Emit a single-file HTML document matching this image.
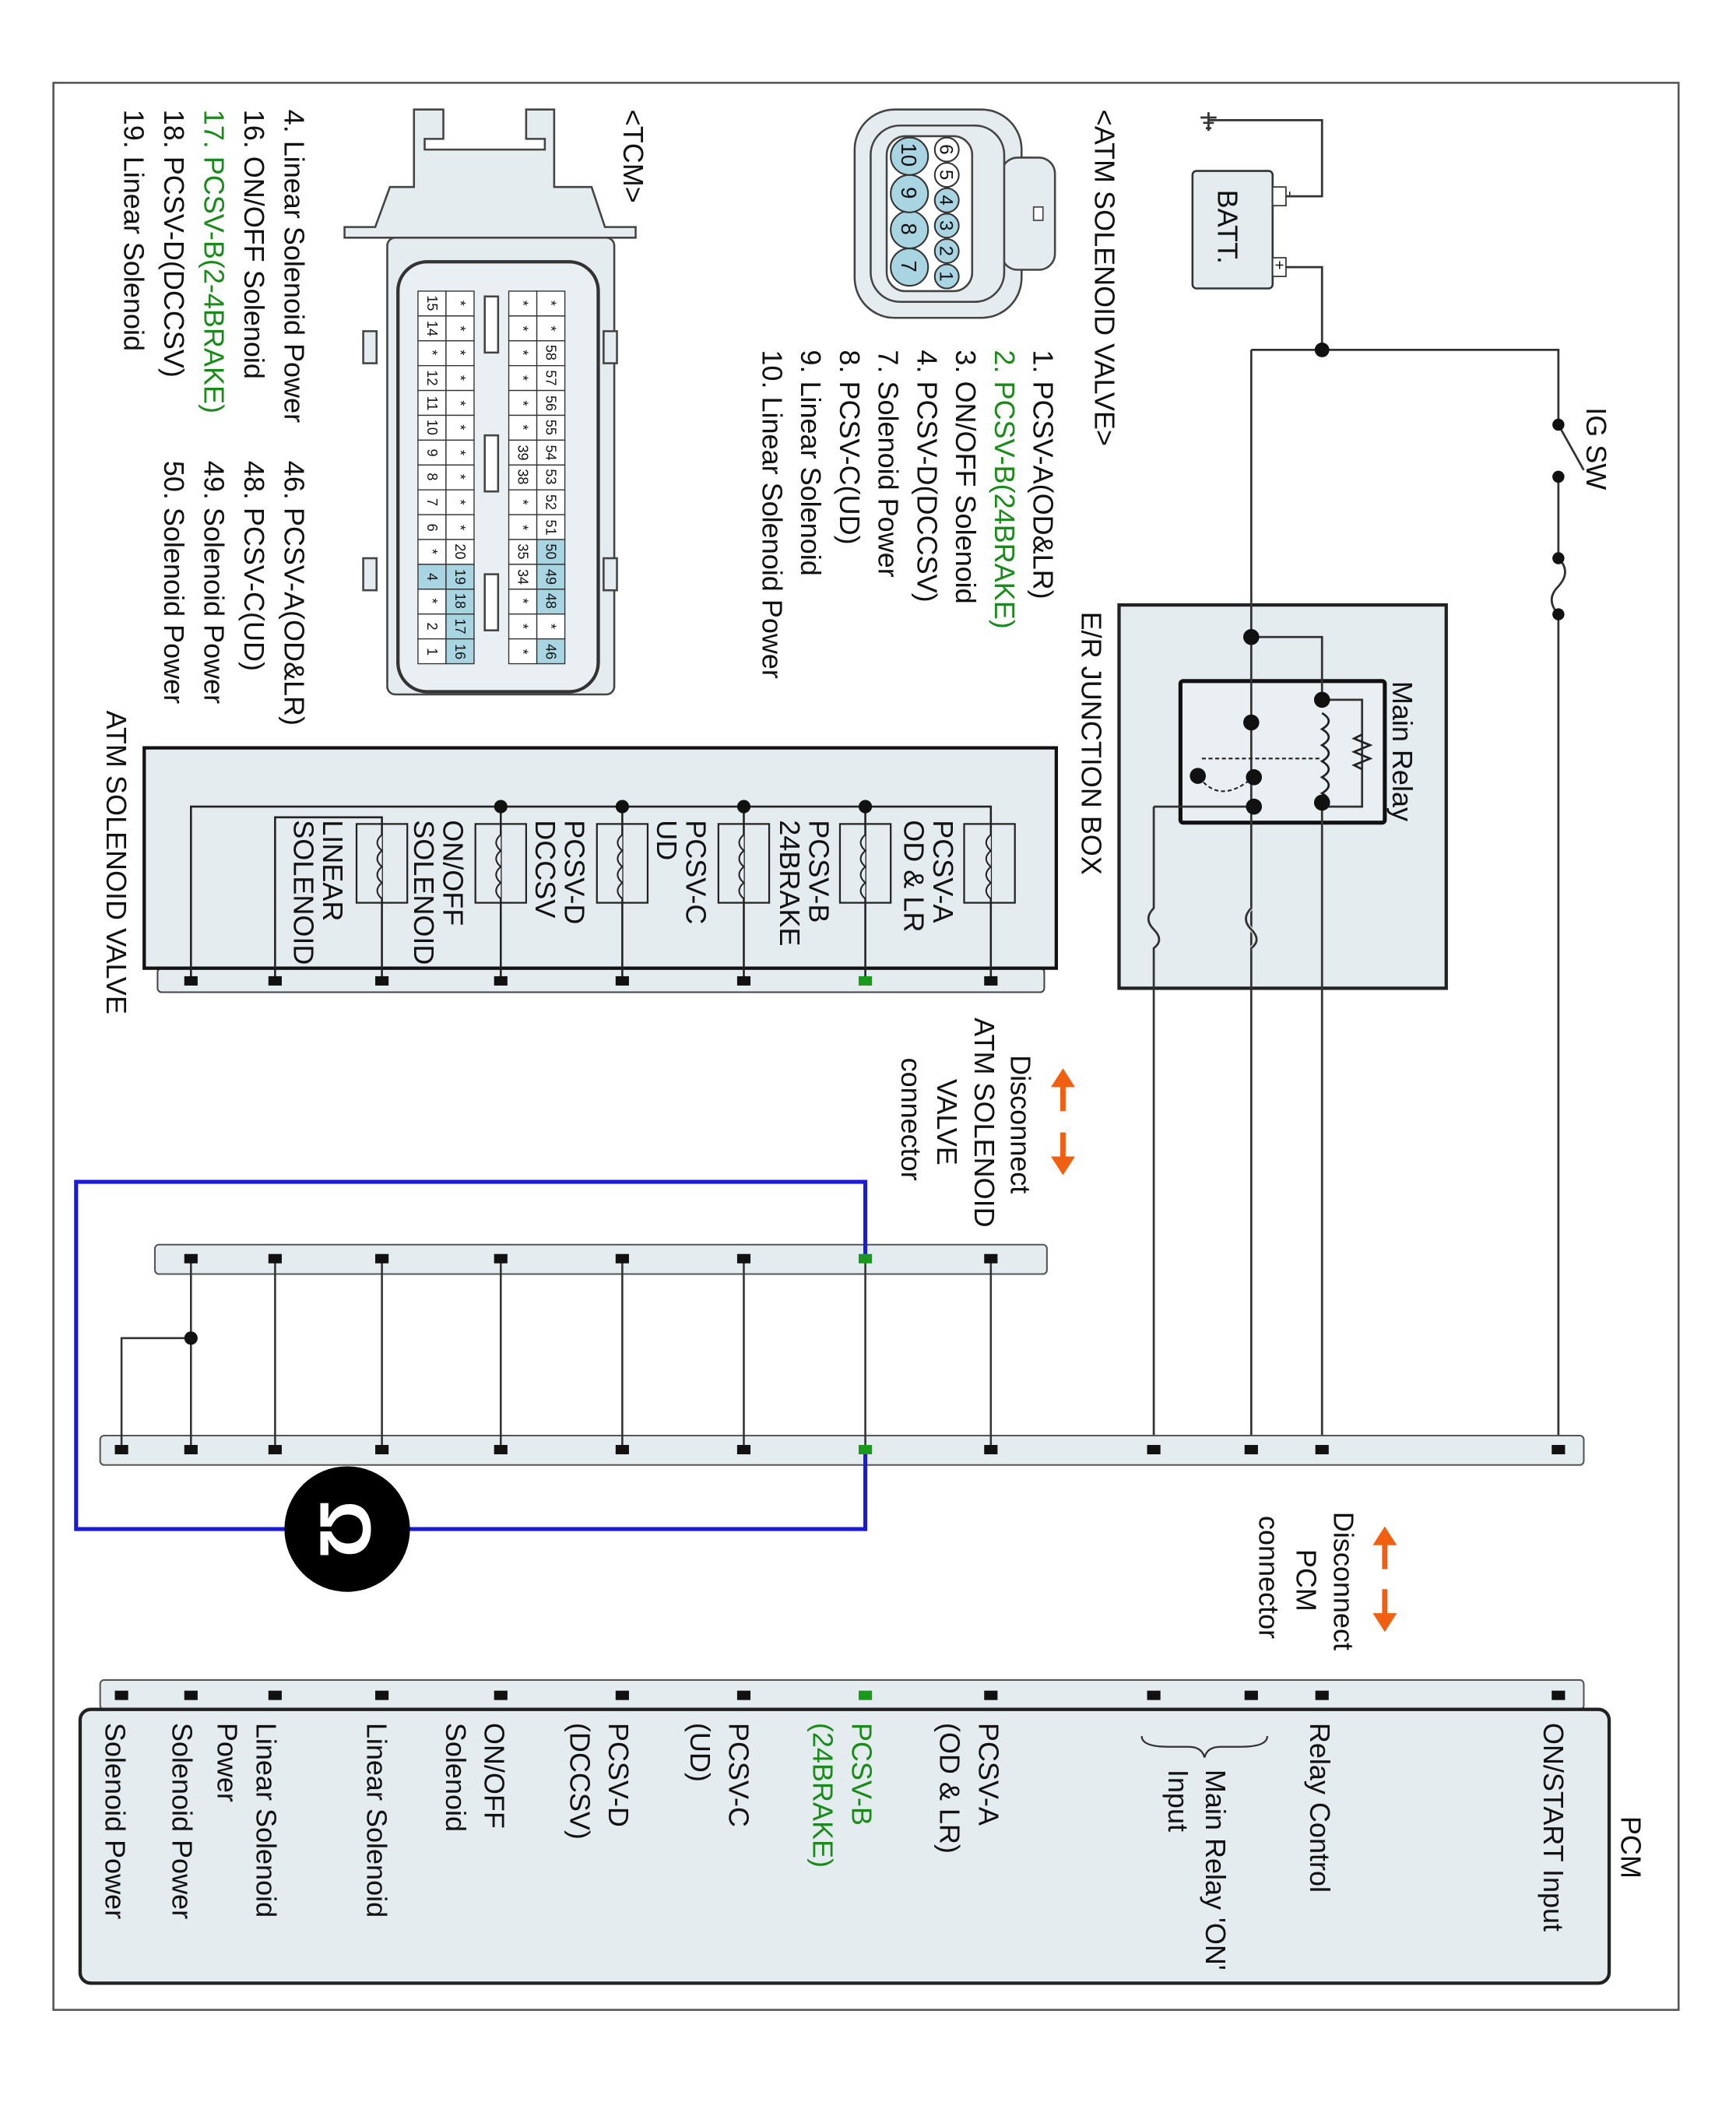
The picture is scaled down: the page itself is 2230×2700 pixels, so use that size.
<!DOCTYPE html>
<html><head><meta charset="utf-8"><style>
html,body{margin:0;padding:0;background:#fff}
svg{display:block}
text{font-family:"Liberation Sans",sans-serif;fill:#111}
.g{fill:#1a8a1a}
</style></head><body>
<svg width="2230" height="2700" viewBox="0 0 1300 1574" preserveAspectRatio="none" xmlns="http://www.w3.org/2000/svg">
<rect x="40" y="62" width="1217" height="1443" fill="#fff" stroke="#555" stroke-width="1.5"/>

<!-- E/R junction box -->
<rect x="838" y="453" width="245" height="287" fill="#e4ecef" stroke="#222" stroke-width="2.5"/>
<rect x="884" y="510" width="153" height="106" fill="#e9eff2" stroke="#111" stroke-width="3" rx="2"/>

<!-- wires -->
<g stroke="#333" stroke-width="1.6" fill="none">
<!-- ground/battery -->
<path d="M905 84 V98 M899 88 H911 M901 92 H909 M903 96 H907"/>
<path d="M905 90 H990 V147 H962"/>
<path d="M962 200 H990 V262"/>
<path d="M937 262 H1167 V318 M1167 357 V418 M1167 460 V1086"/>
<path d="M1167 418 q10 10 0 21 q-10 10 0 21"/>
<path d="M937 262 V1086"/>
<path d="M937 477 H990 V524"/>
<path d="M990 604 V1086"/>
<path d="M990 604 H1020 V524 H990"/>
<path d="M864 604 H937 M864 604 V680 q-8 8 0 16 q8 8 0 14 V1086"/>
<path d="M937 680 q-8 8 0 16 q8 8 0 14" stroke="#e4ecef" stroke-width="3"/>
<path d="M937 680 q-8 8 0 16 q8 8 0 14"/>
</g>
<!-- IG SW -->
<line x1="1167" y1="318" x2="1186" y2="352" stroke="#333" stroke-width="1.6"/>
<!-- relay coil -->
<g stroke="#222" stroke-width="1.6" fill="#e9eff2">
<path d="M990 534 q10 6 0 12 q10 6 0 12 q10 6 0 12 q10 6 0 12 q10 6 0 12 q10 6 0 12" fill="none"/>
<path d="M1020 550 l-6 3 l12 5 l-12 5 l12 5 l-12 5 l6 3" fill="none"/>
<path d="M900 568 H990" stroke-dasharray="3,2" fill="none" stroke-width="1.2"/>
<path d="M898 582 q15 20 38 2" stroke-dasharray="3,2" fill="none" stroke-width="1.2"/>
</g>
<g fill="#111">
<circle cx="990" cy="262" r="5.5"/><circle cx="937" cy="477" r="6"/><circle cx="990" cy="524" r="6"/>
<circle cx="937" cy="541" r="6"/><circle cx="939" cy="582" r="6"/><circle cx="939" cy="604" r="6"/>
<circle cx="990" cy="601" r="6"/><circle cx="897" cy="581" r="6"/>
<circle cx="1167" cy="318" r="4.5"/><circle cx="1167" cy="357" r="4.5"/><circle cx="1167" cy="418" r="4.5"/><circle cx="1167" cy="460" r="4.5"/>
</g>

<!-- battery -->
<rect x="893" y="128" width="60" height="88" fill="#e4ecef" stroke="#333" stroke-width="1.5" rx="3"/>
<rect x="953" y="140" width="10" height="14" fill="#fff" stroke="#333"/>
<rect x="953" y="193" width="10" height="14" fill="#fff" stroke="#333"/>
<text transform="translate(963,143) rotate(90)" font-size="11">-</text>
<text transform="translate(954,195) rotate(90)" font-size="12">+</text>
<text transform="translate(912,142) rotate(90)" font-size="21">BATT.</text>

<!-- ATM SOLENOID VALVE box -->
<rect x="118" y="725" width="664" height="18" fill="#e4ecef" stroke="#444" stroke-width="1.2" rx="3"/>
<rect x="108" y="560" width="683" height="165" fill="#e4ecef" stroke="#111" stroke-width="2.5"/>
<g stroke="#222" stroke-width="1.5" fill="none">
<path d="M143 735 V604 H742 V735"/>
<path d="M648 604 V735 M557 604 V735 M466 604 V735 M375 604 V735"/>
<path d="M206 735 V612 H286 V735"/>
</g>
<g fill="#111"><circle cx="648" cy="604" r="5"/><circle cx="557" cy="604" r="5"/><circle cx="466" cy="604" r="5"/><circle cx="375" cy="604" r="5"/></g>
<g stroke="#222" stroke-width="1.3" fill="none">
<rect x="722" y="617" width="38" height="59"/><rect x="629" y="617" width="38" height="59"/>
<rect x="538" y="617" width="38" height="59"/><rect x="447" y="617" width="38" height="59"/>
<rect x="356" y="617" width="38" height="59"/><rect x="267" y="617" width="38" height="59"/>
</g>
<g stroke="#222" stroke-width="1.2" fill="#e4ecef">
<path d="M742 625 q-7 6 0 12 q-7 6 0 12 q-7 6 0 12 q-7 6 0 12"/>
<path d="M648 625 q-7 6 0 12 q-7 6 0 12 q-7 6 0 12 q-7 6 0 12"/>
<path d="M557 625 q-7 6 0 12 q-7 6 0 12 q-7 6 0 12 q-7 6 0 12"/>
<path d="M466 625 q-7 6 0 12 q-7 6 0 12 q-7 6 0 12 q-7 6 0 12"/>
<path d="M375 625 q-7 6 0 12 q-7 6 0 12 q-7 6 0 12 q-7 6 0 12"/>
<path d="M286 625 q-7 6 0 12 q-7 6 0 12 q-7 6 0 12 q-7 6 0 12"/>
</g>
<g font-size="21">
<text transform="translate(699,614) rotate(90)">PCSV-A</text><text transform="translate(677,614) rotate(90)">OD &amp; LR</text>
<text transform="translate(606,614) rotate(90)">PCSV-B</text><text transform="translate(584,614) rotate(90)">24BRAKE</text>
<text transform="translate(514,614) rotate(90)">PCSV-C</text><text transform="translate(492,614) rotate(90)">UD</text>
<text transform="translate(423,614) rotate(90)">PCSV-D</text><text transform="translate(401,614) rotate(90)">DCCSV</text>
<text transform="translate(332,614) rotate(90)">ON/OFF</text><text transform="translate(310,614) rotate(90)">SOLENOID</text>
<text transform="translate(242,614) rotate(90)">LINEAR</text><text transform="translate(220,614) rotate(90)">SOLENOID</text>
</g>

<!-- middle connector strips -->
<rect x="116" y="932" width="668" height="22" fill="#e4ecef" stroke="#555" stroke-width="1.2" rx="3"/>
<rect x="75" y="1075" width="1111" height="22" fill="#e4ecef" stroke="#555" stroke-width="1.2" rx="3"/>
<g stroke="#333" stroke-width="1.5" fill="none">
<path d="M143 943 V1086 M206 943 V1086 M286 943 V1086 M375 943 V1086 M466 943 V1086 M557 943 V1086 M742 943 V1086"/>
<path d="M143 1002 H91 V1086"/>
</g>
<circle cx="143" cy="1002" r="5" fill="#111"/>
<path d="M648 943 V885 H57 V1145 H648 V1086" stroke="#1a1adb" stroke-width="3" fill="none"/>
<line x1="648" y1="943" x2="648" y2="1086" stroke="#333" stroke-width="1.5"/>
<circle cx="260" cy="1145" r="47" fill="#000"/>
<text transform="translate(240,1145) rotate(90)" font-size="54" font-weight="bold" text-anchor="middle" style="fill:#fff">Ω</text>

<!-- PCM -->
<rect x="75" y="1258" width="1111" height="22" fill="#e4ecef" stroke="#555" stroke-width="1.2" rx="3"/>
<rect x="60" y="1280" width="1145" height="205" fill="#e4ecef" stroke="#222" stroke-width="2.5" rx="8"/>

<!-- pins -->
<g fill="#111">
<g id="p1"><rect x="737" y="731" width="10" height="7"/><rect x="552" y="731" width="10" height="7"/><rect x="461" y="731" width="10" height="7"/><rect x="370" y="731" width="10" height="7"/><rect x="281" y="731" width="10" height="7"/><rect x="201" y="731" width="10" height="7"/><rect x="138" y="731" width="10" height="7"/></g>
<rect x="737" y="939" width="10" height="7"/><rect x="552" y="939" width="10" height="7"/><rect x="461" y="939" width="10" height="7"/><rect x="370" y="939" width="10" height="7"/><rect x="281" y="939" width="10" height="7"/><rect x="201" y="939" width="10" height="7"/><rect x="138" y="939" width="10" height="7"/>
<rect x="1162" y="1082" width="10" height="7"/><rect x="985" y="1082" width="10" height="7"/><rect x="932" y="1082" width="10" height="7"/><rect x="859" y="1082" width="10" height="7"/><rect x="737" y="1082" width="10" height="7"/><rect x="552" y="1082" width="10" height="7"/><rect x="461" y="1082" width="10" height="7"/><rect x="370" y="1082" width="10" height="7"/><rect x="281" y="1082" width="10" height="7"/><rect x="201" y="1082" width="10" height="7"/><rect x="138" y="1082" width="10" height="7"/><rect x="86" y="1082" width="10" height="7"/>
<rect x="1162" y="1266" width="10" height="7"/><rect x="985" y="1266" width="10" height="7"/><rect x="932" y="1266" width="10" height="7"/><rect x="859" y="1266" width="10" height="7"/><rect x="737" y="1266" width="10" height="7"/><rect x="552" y="1266" width="10" height="7"/><rect x="461" y="1266" width="10" height="7"/><rect x="370" y="1266" width="10" height="7"/><rect x="281" y="1266" width="10" height="7"/><rect x="201" y="1266" width="10" height="7"/><rect x="138" y="1266" width="10" height="7"/><rect x="86" y="1266" width="10" height="7"/>
</g>
<g fill="#1a9a1a"><rect x="643" y="731" width="10" height="7"/><rect x="643" y="939" width="10" height="7"/><rect x="643" y="1082" width="10" height="7"/><rect x="643" y="1266" width="10" height="7"/></g>

<!-- orange arrows -->
<g stroke="#f06010" stroke-width="4" fill="#f06010">
<line x1="796" y1="812" x2="796" y2="832"/><polygon points="787,814 805,814 796,800" stroke="none"/>
<line x1="796" y1="848" x2="796" y2="868"/><polygon points="787,866 805,866 796,880" stroke="none"/>
<line x1="1037" y1="1155" x2="1037" y2="1175"/><polygon points="1028,1157 1046,1157 1037,1143" stroke="none"/>
<line x1="1037" y1="1190" x2="1037" y2="1210"/><polygon points="1028,1208 1046,1208 1037,1222" stroke="none"/>
</g>

<!-- labels -->
<g font-size="21">
<text transform="translate(820,82) rotate(90)">&lt;ATM SOLENOID VALVE&gt;</text>
<text transform="translate(774,262) rotate(90)">1. PCSV-A(OD&amp;LR)</text>
<text class="g" transform="translate(745,262) rotate(90)">2. PCSV-B(24BRAKE)</text>
<text transform="translate(716,262) rotate(90)">3. ON/OFF Solenoid</text>
<text transform="translate(687,262) rotate(90)">4. PCSV-D(DCCSV)</text>
<text transform="translate(658,262) rotate(90)">7. Solenoid Power</text>
<text transform="translate(629,262) rotate(90)">8. PCSV-C(UD)</text>
<text transform="translate(600,262) rotate(90)">9. Linear Solenoid</text>
<text transform="translate(571,262) rotate(90)">10. Linear Solenoid Power</text>
<text transform="translate(467,82) rotate(90)">&lt;TCM&gt;</text>
<text transform="translate(213,82) rotate(90)">4. Linear Solenoid Power</text>
<text transform="translate(183,82) rotate(90)">16. ON/OFF Solenoid</text>
<text class="g" transform="translate(153,82) rotate(90)">17. PCSV-B(2-4BRAKE)</text>
<text transform="translate(123,82) rotate(90)">18. PCSV-D(DCCSV)</text>
<text transform="translate(93,82) rotate(90)">19. Linear Solenoid</text>
<text transform="translate(213,345) rotate(90)">46. PCSV-A(OD&amp;LR)</text>
<text transform="translate(183,345) rotate(90)">48. PCSV-C(UD)</text>
<text transform="translate(153,345) rotate(90)">49. Solenoid Power</text>
<text transform="translate(123,345) rotate(90)">50. Solenoid Power</text>
<text transform="translate(80,532) rotate(90)">ATM SOLENOID VALVE</text>
<text transform="translate(810,458) rotate(90)">E/R JUNCTION BOX</text>
<text transform="translate(1043,510) rotate(90)">Main Relay</text>
<text transform="translate(1188,305) rotate(90)">IG SW</text>
<text transform="translate(757,790) rotate(90)">Disconnect</text>
<text transform="translate(730,762) rotate(90)">ATM SOLENOID</text>
<text transform="translate(702,808) rotate(90)">VALVE</text>
<text transform="translate(675,792) rotate(90)">connector</text>
<text transform="translate(999,1132) rotate(90)">Disconnect</text>
<text transform="translate(971,1160) rotate(90)">PCM</text>
<text transform="translate(943,1135) rotate(90)">connector</text>
<text transform="translate(1214,1360) rotate(90)">PCM</text>
<text transform="translate(1156,1290) rotate(90)">ON/START Input</text>
<text transform="translate(981,1290) rotate(90)">Relay Control</text>
<text transform="translate(903,1325) rotate(90)">Main Relay 'ON'</text>
<text transform="translate(875,1325) rotate(90)">Input</text>
<text transform="translate(733,1290) rotate(90)">PCSV-A</text>
<text transform="translate(704,1290) rotate(90)">(OD &amp; LR)</text>
<text class="g" transform="translate(638,1290) rotate(90)">PCSV-B</text>
<text class="g" transform="translate(609,1290) rotate(90)">(24BRAKE)</text>
<text transform="translate(546,1290) rotate(90)">PCSV-C</text>
<text transform="translate(517,1290) rotate(90)">(UD)</text>
<text transform="translate(456,1290) rotate(90)">PCSV-D</text>
<text transform="translate(427,1290) rotate(90)">(DCCSV)</text>
<text transform="translate(363,1290) rotate(90)">ON/OFF</text>
<text transform="translate(334,1290) rotate(90)">Solenoid</text>
<text transform="translate(275,1290) rotate(90)">Linear Solenoid</text>
<text transform="translate(192,1290) rotate(90)">Linear Solenoid</text>
<text transform="translate(163,1290) rotate(90)">Power</text>
<text transform="translate(129,1290) rotate(90)">Solenoid Power</text>
<text transform="translate(79,1290) rotate(90)">Solenoid Power</text>
</g>
<path d="M855 1300 q0 8 20 8 h15 q10 0 12 8 q2 -8 12 -8 h15 q20 0 20 -8" stroke="#333" stroke-width="1.3" fill="none"/>

<!-- ATM connector -->
<g stroke="#444" stroke-width="1.5" fill="#e4ecef">
<rect x="640" y="82" width="125" height="156" rx="30"/>
<rect x="750" y="118" width="40" height="84" rx="12"/>
<rect x="652" y="94" width="100" height="132" rx="22"/>
<rect x="664" y="102" width="64" height="116" rx="14" fill="#fff"/>
</g>
<rect x="774" y="155" width="7" height="10" fill="#fff" stroke="#444"/>
<g stroke="#333" stroke-width="1.2" fill="#a9d5e3">
<circle cx="709" cy="207" r="9"/><circle cx="709" cy="188" r="9"/><circle cx="709" cy="169" r="9"/><circle cx="709" cy="150" r="9"/>
<circle cx="709" cy="131" r="9" fill="#fff"/><circle cx="709" cy="112" r="9" fill="#fff"/>
<circle cx="681" cy="200" r="14"/><circle cx="681" cy="172" r="14"/><circle cx="681" cy="145" r="14"/><circle cx="681" cy="117" r="14"/>
</g>
<g font-size="14">
<text transform="translate(704,203) rotate(90)">1</text><text transform="translate(704,184) rotate(90)">2</text><text transform="translate(704,165) rotate(90)">3</text>
<text transform="translate(704,146) rotate(90)">4</text><text transform="translate(704,127) rotate(90)">5</text><text transform="translate(704,108) rotate(90)">6</text>
<text transform="translate(675,195) rotate(90)" font-size="16">7</text><text transform="translate(675,167) rotate(90)" font-size="16">8</text>
<text transform="translate(675,140) rotate(90)" font-size="16">9</text><text transform="translate(675,107) rotate(90)" font-size="16">10</text>
</g>

<!-- TCM connector -->
<g stroke="#444" stroke-width="1.5" fill="#e4ecef">
<path d="M310 82 H332 V104 H318 V112 H408 V104 H394 V82 H415 V140 H443 L453 170 H476 V178 H258 V170 H281 L292 140 H310 Z" transform="translate(0,0)"/>
<rect x="290" y="178" width="170" height="342" rx="6"/>
<rect x="272" y="248" width="10" height="24"/><rect x="272" y="418" width="10" height="24"/>
<rect x="452" y="248" width="10" height="24"/><rect x="452" y="418" width="10" height="24"/>
<rect x="298" y="196" width="150" height="322" rx="22" fill="#e9eff2" stroke="#333" stroke-width="2.5"/>
<rect x="363" y="222" width="10" height="42" fill="#fff"/><rect x="363" y="326" width="10" height="42" fill="#fff"/><rect x="363" y="430" width="10" height="42" fill="#fff"/>
</g>
<g id="tcm" stroke="#333" stroke-width="0.9" font-size="11">
</g>
<g font-size="10.5" stroke="#333" stroke-width="0.8">
<!-- grid cells generated -->
<g fill="#fff">
<rect x="313" y="218" width="21" height="18.6"/><rect x="334" y="218" width="21" height="18.6"/><rect x="381" y="218" width="21" height="18.6"/><rect x="402" y="218" width="21" height="18.6"/>
<rect x="313" y="236.6" width="21" height="18.6"/><rect x="334" y="236.6" width="21" height="18.6"/><rect x="381" y="236.6" width="21" height="18.6"/><rect x="402" y="236.6" width="21" height="18.6"/>
<rect x="313" y="255.2" width="21" height="18.6"/><rect x="334" y="255.2" width="21" height="18.6"/><rect x="381" y="255.2" width="21" height="18.6"/><rect x="402" y="255.2" width="21" height="18.6"/>
<rect x="313" y="273.8" width="21" height="18.6"/><rect x="334" y="273.8" width="21" height="18.6"/><rect x="381" y="273.8" width="21" height="18.6"/><rect x="402" y="273.8" width="21" height="18.6"/>
<rect x="313" y="292.4" width="21" height="18.6"/><rect x="334" y="292.4" width="21" height="18.6"/><rect x="381" y="292.4" width="21" height="18.6"/><rect x="402" y="292.4" width="21" height="18.6"/>
<rect x="313" y="311" width="21" height="18.6"/><rect x="334" y="311" width="21" height="18.6"/><rect x="381" y="311" width="21" height="18.6"/><rect x="402" y="311" width="21" height="18.6"/>
<rect x="313" y="329.6" width="21" height="18.6"/><rect x="334" y="329.6" width="21" height="18.6"/><rect x="381" y="329.6" width="21" height="18.6"/><rect x="402" y="329.6" width="21" height="18.6"/>
<rect x="313" y="348.2" width="21" height="18.6"/><rect x="334" y="348.2" width="21" height="18.6"/><rect x="381" y="348.2" width="21" height="18.6"/><rect x="402" y="348.2" width="21" height="18.6"/>
<rect x="313" y="366.8" width="21" height="18.6"/><rect x="334" y="366.8" width="21" height="18.6"/><rect x="381" y="366.8" width="21" height="18.6"/><rect x="402" y="366.8" width="21" height="18.6"/>
<rect x="313" y="385.4" width="21" height="18.6"/><rect x="334" y="385.4" width="21" height="18.6"/><rect x="381" y="385.4" width="21" height="18.6"/><rect x="402" y="385.4" width="21" height="18.6"/>
<rect x="313" y="404" width="21" height="18.6"/><rect x="334" y="404" width="21" height="18.6"/><rect x="381" y="404" width="21" height="18.6"/><rect x="402" y="404" width="21" height="18.6" fill="#a9d5e3"/>
<rect x="313" y="422.6" width="21" height="18.6" fill="#a9d5e3"/><rect x="334" y="422.6" width="21" height="18.6" fill="#a9d5e3"/><rect x="381" y="422.6" width="21" height="18.6"/><rect x="402" y="422.6" width="21" height="18.6" fill="#a9d5e3"/>
<rect x="313" y="441.2" width="21" height="18.6"/><rect x="334" y="441.2" width="21" height="18.6" fill="#a9d5e3"/><rect x="381" y="441.2" width="21" height="18.6"/><rect x="402" y="441.2" width="21" height="18.6" fill="#a9d5e3"/>
<rect x="313" y="459.8" width="21" height="18.6"/><rect x="334" y="459.8" width="21" height="18.6" fill="#a9d5e3"/><rect x="381" y="459.8" width="21" height="18.6"/><rect x="402" y="459.8" width="21" height="18.6"/>
<rect x="313" y="478.4" width="21" height="18.6"/><rect x="334" y="478.4" width="21" height="18.6" fill="#a9d5e3"/><rect x="381" y="478.4" width="21" height="18.6"/><rect x="402" y="478.4" width="21" height="18.6" fill="#a9d5e3"/>
</g>
</g>
<g font-size="10.5" text-anchor="middle">
<!-- col1 x=313-334 -->
<text transform="translate(320,227) rotate(90)">15</text><text transform="translate(320,246) rotate(90)">14</text><text transform="translate(320,264) rotate(90)">*</text><text transform="translate(320,283) rotate(90)">12</text><text transform="translate(320,302) rotate(90)">11</text><text transform="translate(320,320) rotate(90)">10</text><text transform="translate(320,339) rotate(90)">9</text><text transform="translate(320,357) rotate(90)">8</text><text transform="translate(320,376) rotate(90)">7</text><text transform="translate(320,395) rotate(90)">6</text><text transform="translate(320,413) rotate(90)">*</text><text transform="translate(320,432) rotate(90)">4</text><text transform="translate(320,450) rotate(90)">*</text><text transform="translate(320,469) rotate(90)">2</text><text transform="translate(320,488) rotate(90)">1</text>
<text transform="translate(341,227) rotate(90)">*</text><text transform="translate(341,246) rotate(90)">*</text><text transform="translate(341,264) rotate(90)">*</text><text transform="translate(341,283) rotate(90)">*</text><text transform="translate(341,302) rotate(90)">*</text><text transform="translate(341,320) rotate(90)">*</text><text transform="translate(341,339) rotate(90)">*</text><text transform="translate(341,357) rotate(90)">*</text><text transform="translate(341,376) rotate(90)">*</text><text transform="translate(341,395) rotate(90)">*</text><text transform="translate(341,413) rotate(90)">20</text><text transform="translate(341,432) rotate(90)">19</text><text transform="translate(341,450) rotate(90)">18</text><text transform="translate(341,469) rotate(90)">17</text><text transform="translate(341,488) rotate(90)">16</text>
<text transform="translate(388,227) rotate(90)">*</text><text transform="translate(388,246) rotate(90)">*</text><text transform="translate(388,264) rotate(90)">*</text><text transform="translate(388,283) rotate(90)">*</text><text transform="translate(388,302) rotate(90)">*</text><text transform="translate(388,320) rotate(90)">*</text><text transform="translate(388,339) rotate(90)">39</text><text transform="translate(388,357) rotate(90)">38</text><text transform="translate(388,376) rotate(90)">*</text><text transform="translate(388,395) rotate(90)">*</text><text transform="translate(388,413) rotate(90)">35</text><text transform="translate(388,432) rotate(90)">34</text><text transform="translate(388,450) rotate(90)">*</text><text transform="translate(388,469) rotate(90)">*</text><text transform="translate(388,488) rotate(90)">*</text>
<text transform="translate(409,227) rotate(90)">*</text><text transform="translate(409,246) rotate(90)">*</text><text transform="translate(409,264) rotate(90)">58</text><text transform="translate(409,283) rotate(90)">57</text><text transform="translate(409,302) rotate(90)">56</text><text transform="translate(409,320) rotate(90)">55</text><text transform="translate(409,339) rotate(90)">54</text><text transform="translate(409,357) rotate(90)">53</text><text transform="translate(409,376) rotate(90)">52</text><text transform="translate(409,395) rotate(90)">51</text><text transform="translate(409,413) rotate(90)">50</text><text transform="translate(409,432) rotate(90)">49</text><text transform="translate(409,450) rotate(90)">48</text><text transform="translate(409,469) rotate(90)">*</text><text transform="translate(409,488) rotate(90)">46</text>
</g>
</svg>
</body></html>
